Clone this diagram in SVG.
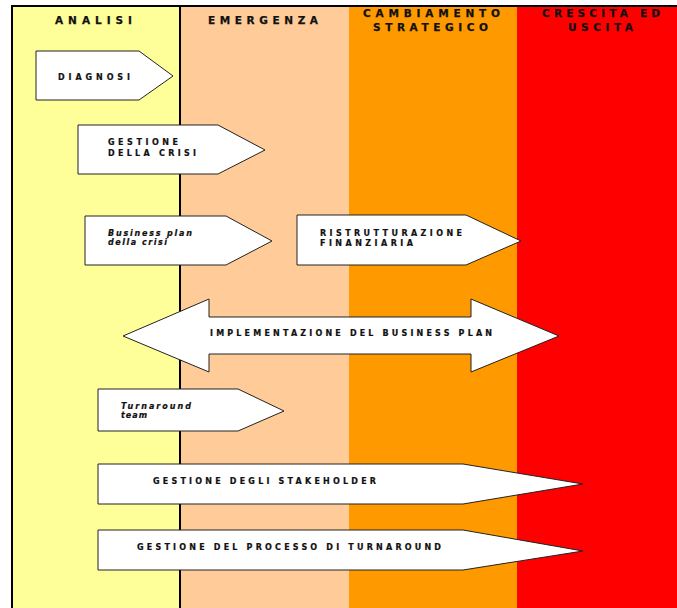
<svg xmlns="http://www.w3.org/2000/svg" width="677" height="608" viewBox="0 0 677 608">
<style>
.hdr{font-family:"DejaVu Sans","Liberation Sans",sans-serif;font-weight:bold;font-size:10.5px;fill:#111;stroke:#111;stroke-width:0.25}
.lbl{font-family:"DejaVu Sans","Liberation Sans",sans-serif;font-weight:bold;font-size:8px;fill:#111;stroke:#111;stroke-width:0.2}
.it{font-style:italic}
.arr{fill:#fff;stroke:#222;stroke-width:1;stroke-linejoin:miter}
</style>
<rect width="677" height="608" fill="#fff"/>
<g id="columns">
<rect x="12" y="6" width="168" height="602" fill="#FFFF99"/>
<rect x="180" y="6" width="169" height="602" fill="#FFCC99"/>
<rect x="349" y="6" width="168" height="602" fill="#FF9900"/>
<rect x="517" y="6" width="160" height="602" fill="#FF0000"/>
<line x1="11" y1="6" x2="677" y2="6" stroke="#000" stroke-width="2"/>
<line x1="12" y1="5" x2="12" y2="608" stroke="#000" stroke-width="2"/>
<line x1="180" y1="6" x2="180" y2="608" stroke="#000" stroke-width="2"/>
</g>
<g id="headers">
<text class="hdr" x="55" y="24" textLength="77" lengthAdjust="spacing">ANALISI</text>
<text class="hdr" x="208" y="24" textLength="110" lengthAdjust="spacing">EMERGENZA</text>
<text class="hdr" x="363" y="17" textLength="137" lengthAdjust="spacing">CAMBIAMENTO</text>
<text class="hdr" x="373" y="31" textLength="115" lengthAdjust="spacing">STRATEGICO</text>
<text class="hdr" x="542" y="17" textLength="118" lengthAdjust="spacing">CRESCITA ED</text>
<text class="hdr" x="568" y="31" textLength="65" lengthAdjust="spacing">USCITA</text>
</g>
<g id="connectors"></g>
<g id="diagnosi">
<polygon class="arr" points="36,51 139,51 173,76 139,100 36,100"/>
<text class="lbl" x="58" y="80" textLength="72" lengthAdjust="spacing">DIAGNOSI</text>
</g>
<g id="gestione-crisi">
<polygon class="arr" points="78,125 218,125 265,150 218,174 78,174"/>
<text class="lbl" x="108" y="145" textLength="70" lengthAdjust="spacing">GESTIONE</text>
<text class="lbl" x="108" y="156" textLength="88" lengthAdjust="spacing">DELLA CRISI</text>
</g>
<g id="business-plan-crisi">
<polygon class="arr" points="85,216 226,216 272,241 226,265 85,265"/>
<text class="lbl it" x="108" y="236" textLength="84" lengthAdjust="spacing">Business plan</text>
<text class="lbl it" x="108" y="245" textLength="59" lengthAdjust="spacing">della crisi</text>
</g>
<g id="ristrutturazione">
<polygon class="arr" points="297,215 466,215 521,241 466,265 297,265"/>
<text class="lbl" x="320" y="236" textLength="142" lengthAdjust="spacing">RISTRUTTURAZIONE</text>
<text class="lbl" x="320" y="246" textLength="93" lengthAdjust="spacing">FINANZIARIA</text>
</g>
<g id="implementazione">
<polygon class="arr" points="123,336 209,299 209,317 471,317 471,299 559,336 471,372 471,354 209,354 209,372"/>
<text class="lbl" x="210" y="336" textLength="282" lengthAdjust="spacing">IMPLEMENTAZIONE DEL BUSINESS PLAN</text>
</g>
<g id="turnaround-team">
<polygon class="arr" points="98,389 238,389 284,411 238,431 98,431"/>
<text class="lbl it" x="121" y="409" textLength="70" lengthAdjust="spacing">Turnaround</text>
<text class="lbl it" x="121" y="418" textLength="26" lengthAdjust="spacing">team</text>
</g>
<g id="stakeholder">
<polygon class="arr" points="98,464 463,464 583,484 463,504 98,504"/>
<text class="lbl" x="153" y="484" textLength="223" lengthAdjust="spacing">GESTIONE DEGLI STAKEHOLDER</text>
</g>
<g id="processo-turnaround">
<polygon class="arr" points="98,530 463,530 583,551 463,570 98,570"/>
<text class="lbl" x="137" y="550" textLength="304" lengthAdjust="spacing">GESTIONE DEL PROCESSO DI TURNAROUND</text>
</g>
</svg>
